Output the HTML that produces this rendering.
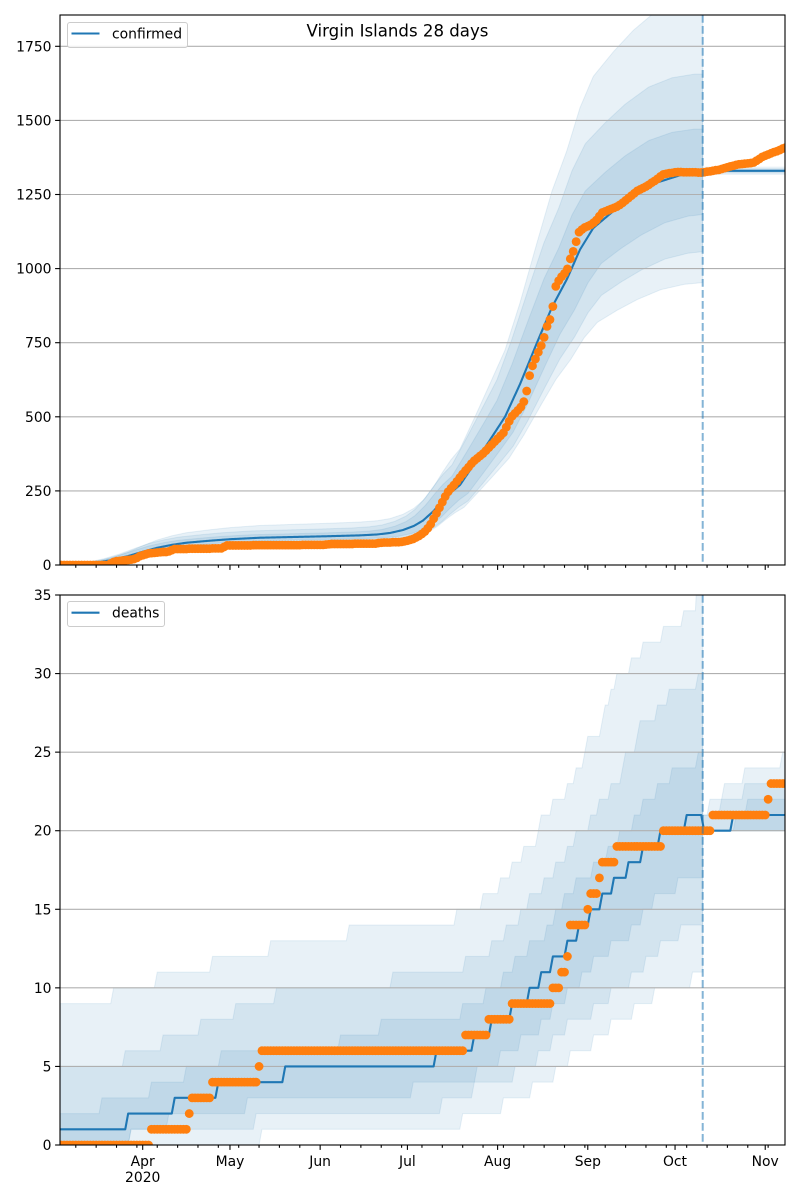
<!DOCTYPE html>
<html><head><meta charset="utf-8">
<style>
html,body{margin:0;padding:0;background:#fff;}
svg{display:block;}
text{font-family:"DejaVu Sans","Liberation Sans",sans-serif;fill:#000;}
</style></head><body>
<svg id="s" width="800" height="1200" viewBox="0 0 800 1200" xmlns="http://www.w3.org/2000/svg">
<defs>
<clipPath id="ct"><rect x="60" y="15" width="725" height="550"/></clipPath>
<clipPath id="cb"><rect x="60" y="595" width="725" height="550"/></clipPath>
</defs>
<rect width="800" height="1200" fill="#fff"/>

<!-- TOP PANEL -->
<g id="tb" clip-path="url(#ct)"></g>
<g stroke="#b0b0b0" stroke-width="1.1">
<line x1="60" x2="785" y1="490.9" y2="490.9"/>
<line x1="60" x2="785" y1="416.8" y2="416.8"/>
<line x1="60" x2="785" y1="342.7" y2="342.7"/>
<line x1="60" x2="785" y1="268.6" y2="268.6"/>
<line x1="60" x2="785" y1="194.5" y2="194.5"/>
<line x1="60" x2="785" y1="120.4" y2="120.4"/>
<line x1="60" x2="785" y1="46.3" y2="46.3"/>
</g>
<g id="tl" clip-path="url(#ct)"></g>
<g id="td" clip-path="url(#ct)"></g>
<line x1="702.7" x2="702.7" y1="15" y2="565" stroke="rgba(31,119,180,0.55)" stroke-width="2" stroke-dasharray="7.7 3.3"/>
<rect x="60" y="15" width="725" height="550" fill="none" stroke="#000" stroke-width="1.1"/>
<g id="tt" stroke="#000" stroke-width="1.1"></g>
<g font-size="13.9" text-anchor="end">
<text x="51.5" y="570">0</text>
<text x="51.5" y="495.9">250</text>
<text x="51.5" y="421.8">500</text>
<text x="51.5" y="347.7">750</text>
<text x="51.5" y="273.6">1000</text>
<text x="51.5" y="199.5">1250</text>
<text x="51.5" y="125.4">1500</text>
<text x="51.5" y="51.3">1750</text>
</g>
<g>
<rect x="67.5" y="22.5" width="120" height="25" rx="2.5" fill="#fff" fill-opacity="0.8" stroke="#cccccc" stroke-width="1"/>
<line x1="71.5" x2="99.5" y1="33.5" y2="33.5" stroke="#1f77b4" stroke-width="2.1"/>
<text x="112" y="38.3" font-size="13.9">confirmed</text>
</g>
<text x="397.5" y="36.3" font-size="16.6" text-anchor="middle">Virgin Islands 28 days</text>

<!-- BOTTOM PANEL -->
<g id="bb" clip-path="url(#cb)"></g>
<g stroke="#b0b0b0" stroke-width="1.1">
<line x1="60" x2="785" y1="1066.43" y2="1066.43"/>
<line x1="60" x2="785" y1="987.86" y2="987.86"/>
<line x1="60" x2="785" y1="909.29" y2="909.29"/>
<line x1="60" x2="785" y1="830.71" y2="830.71"/>
<line x1="60" x2="785" y1="752.14" y2="752.14"/>
<line x1="60" x2="785" y1="673.57" y2="673.57"/>
</g>
<g id="bl" clip-path="url(#cb)"></g>
<g id="bd" clip-path="url(#cb)"></g>
<line x1="702.7" x2="702.7" y1="595" y2="1145" stroke="rgba(31,119,180,0.55)" stroke-width="2" stroke-dasharray="7.7 3.3"/>
<rect x="60" y="595" width="725" height="550" fill="none" stroke="#000" stroke-width="1.1"/>
<g id="bt" stroke="#000" stroke-width="1.1"></g>
<g font-size="13.9" text-anchor="end">
<text x="51.5" y="1150">0</text>
<text x="51.5" y="1071.4">5</text>
<text x="51.5" y="992.9">10</text>
<text x="51.5" y="914.3">15</text>
<text x="51.5" y="835.7">20</text>
<text x="51.5" y="757.1">25</text>
<text x="51.5" y="678.6">30</text>
<text x="51.5" y="600">35</text>
</g>
<g font-size="13.9" text-anchor="middle">
<text x="142.7" y="1166">Apr</text>
<text x="142.7" y="1182">2020</text>
<text x="230.0" y="1166">May</text>
<text x="320.1" y="1166">Jun</text>
<text x="407.4" y="1166">Jul</text>
<text x="497.6" y="1166">Aug</text>
<text x="587.8" y="1166">Sep</text>
<text x="675.0" y="1166">Oct</text>
<text x="765.2" y="1166">Nov</text>
</g>
<g>
<rect x="67.5" y="601.5" width="97" height="25" rx="2.5" fill="#fff" fill-opacity="0.8" stroke="#cccccc" stroke-width="1"/>
<line x1="71.5" x2="99.5" y1="612.7" y2="612.7" stroke="#1f77b4" stroke-width="2.1"/>
<text x="112" y="617.5" font-size="13.9">deaths</text>
</g>
</svg>
<script>
(function(){
const NS='http://www.w3.org/2000/svg';
const X=d=>142.7+2.909*d;
const D=x=>(x-142.7)/2.909;
const KT=0.2964, YT=v=>565-v*KT;
const KB=550/35, YB=v=>1145-v*KB;
function el(tag,a,p){const e=document.createElementNS(NS,tag);for(const k in a)e.setAttribute(k,a[k]);p.appendChild(e);return e;}
function lin(P,x){if(x<=P[0][0])return P[0][1];for(let i=1;i<P.length;i++){if(x<=P[i][0]){const a=P[i-1],b=P[i];return a[1]+(b[1]-a[1])*(x-a[0])/(b[0]-a[0]);}}return P[P.length-1][1];}
function stepD(T,d){let v=T[0][1];for(const t of T){if(t[0]<=d)v=t[1];else break;}return v;}
function pts(a){return a.map(p=>p[0].toFixed(2)+','+p[1].toFixed(2)).join(' ');}
const FILL='rgba(31,119,180,0.1)';
const BLUE='#1f77b4', ORANGE='#ff7f0e';
const R=4.4;

/* ---------- ticks ---------- */
const majors=[0,30,61,91,122,153,183,214];
const minors=[];
for(let d=-23;d<=220;d+=7){if(majors.indexOf(d)<0)minors.push(d);}
[['tt',565],['bt',1145]].forEach(([id,y])=>{
  const g=document.getElementById(id);
  majors.forEach(d=>el('line',{x1:X(d),x2:X(d),y1:y,y2:y+4.9},g));
  minors.forEach(d=>el('line',{x1:X(d),x2:X(d),y1:y,y2:y+2.8},g));
  const yt = id==='tt'?[0,250,500,750,1000,1250,1500,1750].map(YT):[0,5,10,15,20,25,30,35].map(YB);
  yt.forEach(yy=>el('line',{x1:55.1,x2:60,y1:yy,y2:yy},g));
});

/* ---------- TOP: confirmed ---------- */
const MED=[[60,2],[80,5],[100,10],[112,17],[128,30],[143,45],[157,58],[172,68],[186,75],[210,82],[230,87],[260,92],[300,95],[327,97],[360,100],[377,103],[390,108],[403,118],[414,132],[423,150],[433.6,182],[442.3,215],[451,245],[460,270],[475,345],[490,422],[505,500],[520,610],[537,750],[552,870],[566.7,963],[580,1064],[593.3,1137],[613.3,1194],[633.3,1244],[656.7,1290],[680,1315],[702.7,1325],[703.5,1330],[800,1330]];
const M=x=>lin(MED,x);
const tb=document.getElementById('tb');
const bands=[[1.45,0,0.72,4],[1.25,8,0.80,8],[1.11,8,0.895,8]];
bands.forEach(([fu,su,fl,sl])=>{
  const up=[],lo=[];
  const xs=[];for(let x=60;x<702.7;x+=1)xs.push(x);xs.push(702.7);
  xs.forEach(x=>{up.push([x,YT(fu*M(Math.min(x+su,702.7)))]);lo.push([x,YT(fl*M(x-sl))]);});
  el('polygon',{points:pts(up.concat(lo.reverse())),fill:FILL,stroke:FILL,'stroke-width':1},tb);
});
[[1316,1344],[1321,1339],[1325,1335]].forEach(([a,b])=>{
  el('rect',{x:702.7,y:YT(b),width:90,height:YT(a)-YT(b),fill:FILL},tb);
});
const tl=document.getElementById('tl');
const ml=[];for(let x=58;x<=787;x+=1)ml.push([x,YT(M(x))]);
el('polyline',{points:pts(ml),fill:'none',stroke:BLUE,'stroke-width':2.1,'stroke-linejoin':'round'},tl);

const CONF=[[60,0],[108,0],[115,12],[135,20],[140,30],[150,40],[168,45],[175,54],[222,56],[226,66],[325,68],[330,71],[375,72],[380,75],[395,77],[403,78],[413,88],[420,100],[426.7,118],[431,140],[436.7,175],[441.7,208],[447,243],[456.7,281],[463.3,310],[473.3,349],[483.3,377],[493.3,411],[503.3,445],[511.7,501],[520,529],[523.3,546],[526,574],[529.3,636],[533.3,681],[536.7,704],[540,732],[543.3,754],[545.7,794],[550,828],[552.7,867],[555,935],[558.3,957],[561.7,974],[566.7,991],[570,1030],[572.7,1053],[575,1075],[578.3,1120],[583.3,1137],[591.7,1149],[596.7,1165],[601.7,1188],[610,1199],[618.3,1211],[626.7,1233],[636.7,1261],[646.7,1278],[656.7,1301],[663.3,1318],[676.7,1326],[702.7,1324],[720,1334],[736.7,1351],[753.3,1357],[763.3,1379],[776.7,1396],[785,1408]];
const td=document.getElementById('td');
for(let d=-28;d<=221;d++){
  const x=X(d);const v=Math.round(lin(CONF,x));
  el('circle',{cx:x.toFixed(2),cy:YT(v).toFixed(2),r:R,fill:ORANGE},td);
}

/* ---------- BOTTOM: deaths ---------- */
const toD=T=>T.map(([x,v])=>[Math.round(D(x)),v]);
const OU=toD([[60,9],[113,10],[157,11],[213,12],[272,13],[350,14],[457,15],[483,16],[500,17],[512,18],[525,19],[538,20],[542,21],[553,22],[567,23],[577,24],[585,25],[587,26],[602,27],[605,28],[612,29],[618,30],[632,31],[643,32],[663,33],[683,34],[697,38]]);
const MU=toD([[60,5],[125,6],[163,7],[200,8],[237,9],[277,10],[393,11],[467,12],[492,13],[507,14],[520,15],[530,16],[543,17],[555,18],[567,19],[577,20],[592,21],[600,22],[610,23],[622,24],[627,25],[638,26],[640,27],[657,28],[670,29],[697,30]]);
const IU=toD([[60,2],[102,3],[150,4],[185,5],[220,6],[340,7],[380,8],[462,9],[485,10],[503,11],[515,12],[530,13],[548,14],[557,15],[565,16],[575,17],[593,18],[607,19],[620,20],[633,21],[643,22],[658,23],[673,24],[697,25]]);
const IL=toD([[60,0],[130,1],[168,2],[247,3],[413,4],[477,5],[500,6],[522,7],[540,8],[552,9],[568,10],[582,11],[593,12],[612,13],[630,14],[643,15],[655,16],[677,17]]);
const ML=toD([[60,0],[130,1],[255,2],[443,3],[475,4],[515,5],[537,6],[552,7],[567,8],[593,9],[612,10],[630,11],[645,12],[660,13],[680,14]]);
const OL=toD([[60,0],[262,1],[463,2],[503,3],[533,4],[555,5],[570,6],[593,7],[610,8],[633,9],[655,10],[693,11]]);
const OU2=toD([[703,21],[710,22],[725,23],[745,24],[782,25]]);
const MU2=toD([[703,21],[723,22],[745,23]]);
const IU2=toD([[703,20],[735,21],[747,22]]);
const L2=[[0,20]];
const bb=document.getElementById('bb');
function band(U,L,d0,d1,xs,xe){
  const up=[],lo=[];
  up.push([xs,YB(stepD(U,d0))]);lo.push([xs,YB(stepD(L,d0))]);
  for(let d=d0;d<=d1;d++){up.push([X(d),YB(stepD(U,d))]);lo.push([X(d),YB(stepD(L,d))]);}
  up.push([xe,YB(stepD(U,d1))]);lo.push([xe,YB(stepD(L,d1))]);
  el('polygon',{points:pts(up.concat(lo.reverse())),fill:FILL,stroke:FILL,'stroke-width':1},bb);
}
band(OU,OL,-29,192,55,702.7);
band(MU,ML,-29,192,55,702.7);
band(IU,IL,-29,192,55,702.7);
band(OU2,L2,193,221,702.7,790);
band(MU2,L2,193,221,702.7,790);
band(IU2,L2,193,221,702.7,790);

const DM=[[-40,1],[-5,2],[11,3],[26,4],[49,5],[101,6],[114,7],[120,8],[127,9],[133,10],[137,11],[141,12],[146,13],[150,14],[154,15],[158,16],[162,17],[167,18],[172,19],[178,20],[187,21],[193,20],[203,21]];
const bl=document.getElementById('bl');
const dm=[];for(let d=-29;d<=221;d++)dm.push([X(d),YB(stepD(DM,d))]);
el('polyline',{points:pts(dm),fill:'none',stroke:BLUE,'stroke-width':2.1,'stroke-linejoin':'round'},bl);

const DO=[[-40,0],[3,1],[16,2],[17,3],[24,4],[40,5],[41,6],[111,7],[119,8],[127,9],[141,10],[144,11],[146,12],[147,14],[153,15],[154,16],[157,17],[158,18],[163,19],[179,20],[196,21],[215,22],[216,23]];
const bd=document.getElementById('bd');
for(let d=-28;d<=221;d++){
  el('circle',{cx:X(d).toFixed(2),cy:YB(stepD(DO,d)).toFixed(2),r:R,fill:ORANGE},bd);
}
})();
</script>
</body></html>
